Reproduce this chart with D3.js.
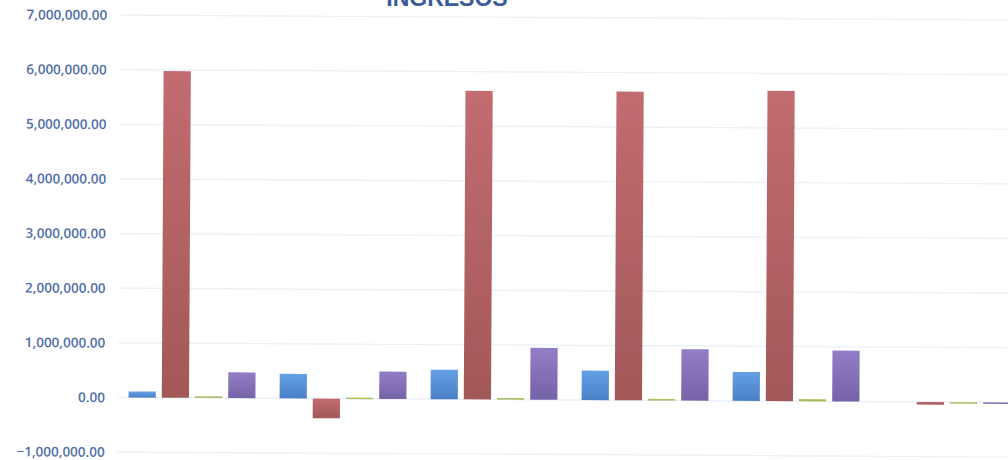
<!DOCTYPE html>
<html>
<head>
<meta charset="utf-8">
<script src="https://cdn.jsdelivr.net/npm/d3@7"></script>
<style>
  html, body { margin: 0; padding: 0; background: #fff; }
  svg { display: block; }
</style>
</head>
<body>
<div id="vis"></div>
<script>
// data
var categories = ['1', '2', '3', '4', '5', '6'];
var seriesNames = ['Serie 1', 'Serie 2', 'Serie 3', 'Serie 4'];
var serie1 = [110000, 450000, 540000, 540000, 530000, 0];
var serie2 = [5980000, -360000, 5650000, 5650000, 5680000, -50000];
var serie3 = [30000, 20000, 30000, 30000, 40000, -10000];
var serie4 = [470000, 500000, 950000, 940000, 930000, -15000];
var yTicks = [-1000000, 0, 1000000, 2000000, 3000000, 4000000, 5000000, 6000000, 7000000];

var width = 1008;
var height = 460;

var colors = [
    { top: '#64a0e6', bottom: '#4a7fc6' },
    { top: '#c26c70', bottom: '#a35858' },
    { top: '#b7cc6a', bottom: '#9bb456' },
    { top: '#917ec6', bottom: '#7662a6' }
];

var rows = categories.map((c, i) => ({
    cat: c,
    values: [serie1[i], serie2[i], serie3[i], serie4[i]]
}));

var svg = d3.select('#vis')
    .append('svg')
    .attr('width', width)
    .attr('height', height);

var defs = svg.append('defs');
colors.forEach((c, i) => {
    var g = defs.append('linearGradient')
        .attr('id', 'grad' + i)
        .attr('x1', 0).attr('y1', 0).attr('x2', 0).attr('y2', 1);
    g.append('stop').attr('offset', '0%').attr('stop-color', c.top);
    g.append('stop').attr('offset', '100%').attr('stop-color', c.bottom);
});

// the scan is a little tilted
var chart = svg.append('g')
    .attr('transform', 'rotate(0.32, 110, 398)');

var y = d3.scaleLinear()
    .domain([-1000000, 7000000])
    .range([452, 15]);

var x0 = d3.scaleBand()
    .domain(categories)
    .range([116.5, 1022.5])
    .paddingInner(0.16)
    .paddingOuter(0.08);

var x1 = d3.scaleBand()
    .domain(d3.range(seriesNames.length))
    .range([0, x0.bandwidth()])
    .paddingInner(0.18);

// gridlines
chart.append('g')
    .selectAll('line')
    .data(yTicks)
    .join('line')
    .attr('x1', 118)
    .attr('x2', 1030)
    .attr('y1', d => y(d))
    .attr('y2', d => y(d))
    .attr('stroke', '#e8eff7')
    .attr('stroke-width', 1.2);

// y axis labels
var yAxis = d3.axisLeft(y)
    .tickValues(yTicks)
    .tickSize(0)
    .tickPadding(0)
    .tickFormat(d3.format(',.2f'));

var axisG = chart.append('g')
    .attr('transform', 'translate(105,0)')
    .call(yAxis);
axisG.select('.domain').remove();
axisG.selectAll('text')
    .attr('fill', '#4f6ea8')
    .attr('font-family', '"Open Sans", sans-serif')
    .attr('font-weight', 600)
    .attr('font-size', '13.5px');

// bars
var groups = chart.append('g')
    .selectAll('g')
    .data(rows)
    .join('g')
    .attr('transform', d => 'translate(' + x0(d.cat) + ',0)');

groups.selectAll('rect')
    .data(d => d.values.map((v, i) => ({ i: i, v: v })).filter(d => d.v !== 0))
    .join('rect')
    .attr('x', d => x1(d.i))
    .attr('width', x1.bandwidth())
    .attr('y', d => Math.min(y(d.v), y(0)))
    .attr('height', d => Math.max(1.5, Math.abs(y(d.v) - y(0))))
    .attr('fill', d => 'url(#grad' + d.i + ')');

// title (cut off at the top in the scan)
svg.append('text')
    .attr('x', 447)
    .attr('y', 6)
    .attr('text-anchor', 'middle')
    .attr('fill', '#3a5a9a')
    .attr('font-family', '"Liberation Sans", Arial, sans-serif')
    .attr('font-weight', 'bold')
    .attr('font-size', '23px')
    .text('INGRESOS');
</script>
</body>
</html>
